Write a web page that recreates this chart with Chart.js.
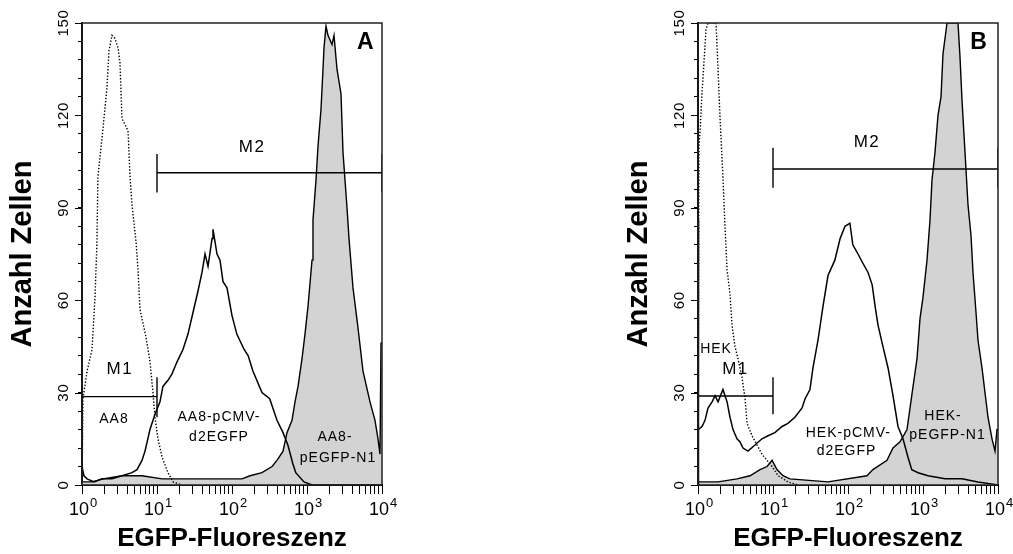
<!DOCTYPE html>
<html>
<head>
<meta charset="utf-8">
<script src="https://cdn.jsdelivr.net/npm/chart.js@4.4.1/dist/chart.umd.min.js"></script>
<style>
  html, body { margin: 0; padding: 0; background: #fff; overflow: hidden; }
  body { width: 1013px; height: 554px; position: relative; }
  canvas { position: absolute; top: 0; }
  #panelA { left: 0; }
  #panelB { left: 616px; }
</style>
</head>
<body>
<canvas id="panelA" width="420" height="554"></canvas>
<canvas id="panelB" width="420" height="554"></canvas>
<script>
const FONT = '"Liberation Sans", Arial, sans-serif';

// axes
const yTicks = [0, 30, 60, 90, 120, 150];
const xDecades = [1, 10, 100, 1000, 10000];
const xExponents = ['0', '1', '2', '3', '4'];

// panel A: AA8 (control, dotted)
const aa8CtrlX = [1, 1.03, 1.17, 1.36, 1.49, 1.58, 1.63, 1.91, 2.15, 2.29, 2.51, 2.75, 3.02, 3.21, 3.41, 4.11, 4.37, 4.64, 5.25, 5.58, 5.93, 7.13, 8.07, 8.84, 9.40, 10.3, 11.7, 14.0, 16.4, 21.5];
const aa8CtrlY = [0, 28, 37, 44, 61, 78, 100, 116, 129, 141, 146, 145, 142, 137, 119, 115, 100, 91, 79, 70, 57, 48, 40, 30, 22, 15, 9, 4, 1, 0];

// panel A: AA8-pCMV-d2EGFP (solid)
const aa8D2X = [1, 1.06, 1.17, 1.45, 1.85, 2.51, 3.41, 4.64, 5.41, 6.31, 6.92, 8.06, 9.40, 10.96, 12.0, 14.0, 15.8, 18.5, 22.2, 25.9, 30.2, 35.2, 39.8, 43.7, 47.9, 54.2, 55.8, 63.1, 69.2, 75.9, 85.8, 100, 116, 145, 164, 190, 251, 318, 398, 479, 556, 646, 708, 912, 1166, 10000];
const aa8D2Y = [6, 3, 2, 1, 2, 2, 3, 4, 5, 8, 11, 18, 23, 27, 32, 34, 36, 40, 44, 49, 56, 63, 69, 75, 71, 80, 83, 75, 73, 66, 64, 55, 49, 44, 42, 37, 30, 28, 21, 17, 13, 7, 4, 1, 0, 0];

// panel A: AA8-pEGFP-N1 (grey)
const aa8N1X = [1, 1.36, 1.91, 3.41, 6.31, 11.7, 39.8, 136, 174, 251, 342, 398, 479, 541, 631, 692, 759, 858, 940, 1031, 1166, 1202, 1318, 1402, 1537, 1634, 1686, 1792, 1905, 2154, 2291, 2512, 2840, 3020, 3415, 3631, 4105, 4786, 5581, 6918, 8067, 8845, 9404, 9698, 10000];
const aa8N1Y = [1, 1, 2, 3, 3, 2, 2, 2, 3, 4, 6, 8, 11, 17, 21, 27, 32, 41, 49, 58, 73, 86, 99, 110, 122, 135, 142, 149, 146, 143, 146, 135, 127, 108, 90, 80, 64, 51, 37, 27, 21, 15, 10, 46, 46];

// panel B: HEK (control, dotted)
const hekCtrlX = [1, 1.03, 1.06, 1.13, 1.28, 1.36, 1.74, 1.85, 1.96, 2.15, 2.29, 2.44, 2.67, 2.84, 3.11, 3.41, 3.86, 4.24, 4.51, 5.25, 6.12, 7.13, 8.33, 9.72, 11.7, 15.8, 21.5];
const hekCtrlY = [0, 110, 114, 127, 148, 150, 150, 135, 120, 100, 84, 70, 62, 52, 45, 41, 35, 28, 20, 16, 13, 10, 8, 6, 3, 1, 0];

// panel B: HEK-pCMV-d2EGFP (solid)
const hekD2X = [1, 1, 1.03, 1.13, 1.24, 1.36, 1.54, 1.69, 1.85, 2.15, 2.44, 2.67, 2.93, 3.31, 3.63, 3.98, 4.64, 5.75, 7.13, 8.58, 10.6, 13.2, 15.8, 19.6, 24.4, 26.8, 31.1, 34.1, 39.8, 46.4, 54.1, 66.8, 78.5, 91.2, 106, 116, 136, 158, 185, 210, 230, 251, 292, 342, 398, 464, 541, 631, 708, 860, 1166, 1965, 3311, 5412, 10000];
const hekD2Y = [0, 86, 18, 19, 21, 25, 27, 29, 27, 31, 27, 22, 18, 15, 14, 12, 11, 13, 15, 16, 17, 19, 20, 22, 25, 28, 31, 38, 47, 58, 68, 73, 80, 84, 85, 78, 75, 72, 69, 65, 58, 52, 45, 38, 29, 19, 15, 9, 5, 4, 3, 2, 2, 1, 0];

// panel B: HEK-pEGFP-N1 (grey)
const hekN1X = [1, 1.85, 3.31, 4.94, 6.71, 8.33, 9.72, 11.3, 13.6, 16.8, 54.1, 179, 215, 331, 398, 494, 612, 708, 832, 912, 1000, 1131, 1240, 1318, 1445, 1585, 1738, 1848, 2089, 2929, 3114, 3311, 3631, 3981, 4365, 4642, 5090, 5412, 6118, 6709, 7356, 8318, 9120, 9698, 10000];
const hekN1Y = [1, 1, 2, 3, 5, 6, 8, 5, 3, 2, 1, 3, 5, 8, 12, 14, 18, 29, 41, 54, 61, 73, 86, 99, 108, 120, 126, 140, 150, 150, 139, 125, 108, 91, 81, 69, 56, 47, 38, 30, 22, 15, 11, 18, 18];

// marker gates: x range, and [level, bar low, bar high]
const gateM1X = [1, 10];
const gateM2X = [10, 10000];
const gateM1A = [28.7, 22, 35];
const gateM2A = [101.4, 95, 107.5];
const gateM1B = [28.9, 23, 35];
const gateM2B = [102.6, 96.5, 109.5];

// text placed in data space
const labelsA = [
  { text: 'A', x: 6100, y: 143.5, font: 'bold 23px ' + FONT },
  { text: 'M2', x: 185, y: 109.5, font: '17px ' + FONT, spacing: 1.5 },
  { text: 'M1', x: 3.2, y: 37.5, font: '17px ' + FONT, spacing: 1.5 },
  { text: 'AA8', x: 2.67, y: 21.4 },
  { text: 'AA8-pCMV-', x: 67, y: 22.1 },
  { text: 'd2EGFP', x: 67, y: 15.4 },
  { text: 'AA8-', x: 2362, y: 15.4 },
  { text: 'pEGFP-N1', x: 2590, y: 8.6 }
];
const labelsB = [
  { text: 'B', x: 5580, y: 143.5, font: 'bold 23px ' + FONT },
  { text: 'M2', x: 179, y: 111.3, font: '17px ' + FONT, spacing: 1.5 },
  { text: 'M1', x: 3.16, y: 37.7, font: '17px ' + FONT, spacing: 1.5 },
  { text: 'HEK', x: 1.74, y: 44.2 },
  { text: 'HEK-pCMV-', x: 101, y: 16.8 },
  { text: 'd2EGFP', x: 95.5, y: 10.9 },
  { text: 'HEK-', x: 1849, y: 22.5 },
  { text: 'pEGFP-N1', x: 2122, y: 16.2 }
];

const xMinorTicks = [];
xDecades.slice(0, -1).forEach((d) => {
  for (let m = 1; m < 10; m++) xMinorTicks.push(d * m);
});
xMinorTicks.push(10000);

const yMinorTicks = [];
for (let v = 0; v <= 150; v += 6) yMinorTicks.push(v);

function pts(xs, ys) {
  return xs.map((x, i) => ({ x, y: ys[i] }));
}

function gatePoints(range, levels) {
  const [lvl, lo, hi] = levels;
  return pts([range[0], range[0], range[0], range[1], range[1], range[1]], [lo, hi, lvl, lvl, lo, hi]);
}

const panelDecor = {
  id: 'panelDecor',
  afterDraw(chart, args, opts) {
    const { ctx, chartArea: area, scales: { x, y } } = chart;
    ctx.save();

    ctx.strokeStyle = '#222';
    ctx.lineWidth = 1.5;
    ctx.strokeRect(area.left, area.top, area.right - area.left, area.bottom - area.top);

    ctx.fillStyle = '#000';
    ctx.strokeStyle = '#000';
    ctx.lineWidth = 1;
    yTicks.forEach((v) => {
      const py = y.getPixelForValue(v);
      const yy = Math.round(py) + 0.5;
      ctx.beginPath();
      ctx.moveTo(area.left - 7, yy);
      ctx.lineTo(area.left, yy);
      ctx.stroke();
      ctx.save();
      ctx.translate(area.left - 14, py);
      ctx.rotate(-Math.PI / 2);
      ctx.font = '15px ' + FONT;
      ctx.letterSpacing = '0.7px';
      ctx.textAlign = 'center';
      ctx.textBaseline = 'alphabetic';
      ctx.fillText(String(v), 0, 0);
      ctx.restore();
    });

    xDecades.forEach((v, i) => {
      const px = x.getPixelForValue(v);
      ctx.textBaseline = 'alphabetic';
      ctx.font = '18px ' + FONT;
      ctx.textAlign = 'right';
      ctx.fillText('10', px + 7, area.bottom + 30);
      ctx.font = '13px ' + FONT;
      ctx.textAlign = 'left';
      ctx.fillText(xExponents[i], px + 8, area.bottom + 22);
    });

    (opts.labels || []).forEach((l) => {
      ctx.font = l.font || '14px ' + FONT;
      ctx.letterSpacing = (l.spacing != null ? l.spacing : 1) + 'px';
      ctx.textAlign = 'center';
      ctx.textBaseline = 'middle';
      ctx.fillText(l.text, x.getPixelForValue(l.x), y.getPixelForValue(l.y));
    });
    ctx.letterSpacing = '0px';
    ctx.restore();
  }
};

function makePanel(id, series, gates, labels) {
  const lineBase = { pointRadius: 0, tension: 0, borderJoinStyle: 'miter', fill: false };
  const datasets = [
    { ...lineBase, data: gatePoints(gateM1X, gates[0]), borderColor: '#000', borderWidth: 1.4 },
    { ...lineBase, data: gatePoints(gateM2X, gates[1]), borderColor: '#000', borderWidth: 1.4 },
    { ...lineBase, data: pts(series.ctrlX, series.ctrlY), borderColor: '#000', borderWidth: 1.4, borderDash: [1.4, 1.8] },
    { ...lineBase, data: pts(series.d2X, series.d2Y), borderColor: '#000', borderWidth: 1.5 },
    { ...lineBase, data: pts(series.n1X, series.n1Y), borderColor: '#000', borderWidth: 1.4, backgroundColor: '#d3d3d3', fill: 'origin' }
  ];

  return new Chart(document.getElementById(id), {
    type: 'line',
    data: { datasets },
    plugins: [panelDecor],
    options: {
      responsive: false,
      animation: false,
      devicePixelRatio: 1,
      layout: { padding: { top: 23, right: 38, bottom: 0, left: 0 } },
      plugins: {
        legend: { display: false },
        tooltip: { enabled: false },
        panelDecor: { labels }
      },
      scales: {
        x: {
          type: 'logarithmic',
          min: 1,
          max: 10000,
          afterBuildTicks: (scale) => { scale.ticks = xMinorTicks.map((value) => ({ value })); },
          afterFit: (scale) => { scale.height = 69; },
          ticks: { display: false },
          grid: { drawOnChartArea: false, drawTicks: true, tickLength: 9, color: '#000', lineWidth: 1 },
          border: { display: true, color: '#000', width: 2 },
          title: {
            display: true,
            text: 'EGFP-Fluoreszenz',
            color: '#000',
            font: { family: FONT, size: 26, weight: 'bold' },
            padding: { top: 0, bottom: 0 }
          }
        },
        y: {
          type: 'linear',
          min: 0,
          max: 150,
          afterBuildTicks: (scale) => { scale.ticks = yMinorTicks.map((value) => ({ value })); },
          afterFit: (scale) => { scale.width = 82; },
          ticks: { display: false },
          grid: { drawOnChartArea: false, drawTicks: true, tickLength: 4, color: '#000', lineWidth: 1 },
          border: { display: true, color: '#000', width: 2 },
          title: {
            display: true,
            text: 'Anzahl Zellen',
            color: '#000',
            font: { family: FONT, size: 29, weight: 'bold' },
            padding: { top: 6, bottom: 0 }
          }
        }
      }
    }
  });
}

makePanel('panelA',
  { ctrlX: aa8CtrlX, ctrlY: aa8CtrlY, d2X: aa8D2X, d2Y: aa8D2Y, n1X: aa8N1X, n1Y: aa8N1Y },
  [gateM1A, gateM2A], labelsA);
makePanel('panelB',
  { ctrlX: hekCtrlX, ctrlY: hekCtrlY, d2X: hekD2X, d2Y: hekD2Y, n1X: hekN1X, n1Y: hekN1Y },
  [gateM1B, gateM2B], labelsB);
</script>
</body>
</html>
